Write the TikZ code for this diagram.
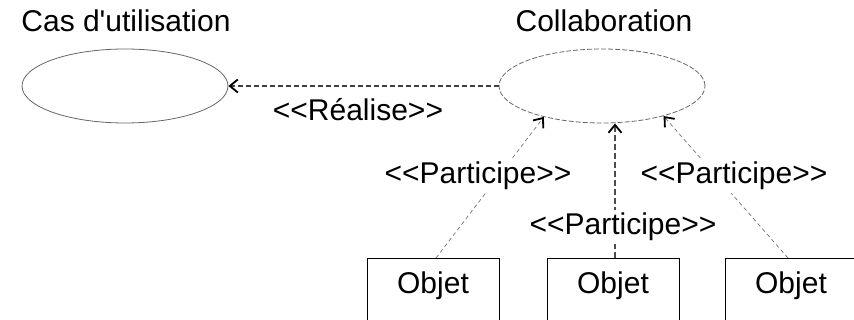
\documentclass[tikz,border=0pt]{standalone}
\usepackage{fontspec}
\setmainfont{Liberation Sans}[Ligatures=TeXOff]
\usetikzlibrary{shapes.geometric,arrows.meta}
\begin{document}
\begin{tikzpicture}[x=1pt,y=-1pt,
  lbl/.style={inner sep=0pt,font=\fontsize{30}{34}\selectfont},
  usecase/.style={ellipse,draw=black!60,line width=0.8pt,minimum width=206pt,minimum height=74pt,inner sep=0pt},
  collab/.style={ellipse,draw=black!60,dashed,dash pattern=on 5pt off 2pt,line width=0.8pt,minimum width=206pt,minimum height=74pt,inner sep=0pt},
  objbox/.style={draw=black,line width=1pt,minimum width=132pt,minimum height=90pt,inner sep=0pt,anchor=north},
  tip/.style={-{Straight Barb[length=8pt,width=13pt,line width=1.8pt,color=black]}},
  realise/.style={tip,draw=black!75,line width=1.2pt,dash pattern=on 5pt off 3pt},
  partside/.style={tip,draw=black!55,line width=0.7pt,dash pattern=on 4pt off 3pt},
  partmid/.style={tip,draw=black!70,line width=1.2pt,dash pattern=on 6pt off 3pt},
]
\useasboundingbox (0,0) rectangle (854,320);
\node[lbl] (tcas) at (126,21) {Cas d'utilisation};
\node[lbl] (tcol) at (604,21) {Collaboration};
\node[usecase] (cas) at (125,86) {};
\node[collab] (col) at (602,86) {};
\node[objbox] (o1) at (433,258) {};
\node[objbox] (o2) at (613,258) {};
\node[objbox] (o3) at (791,258) {};
\node[lbl] (t1) at (433,286) {Objet};
\node[lbl] (t2) at (613,286) {Objet};
\node[lbl] (t3) at (791,286) {Objet};
\draw[realise] (col.west) -- (cas.east);
\node[lbl] (lr) at (358,110) {<<Réalise>>};
\draw[partside] ([xshift=3pt]o1.north) -- (col.-152);
\draw[partmid] ([xshift=2pt]o2.north) -- ([xshift=2pt]o2.north |- col.south);
\draw[partside] ([xshift=-3pt]o3.north) -- (col.-26);
\node[lbl,fill=white,inner ysep=3pt] (l1) at (478,176) {<<Participe>>};
\node[lbl,fill=white,inner ysep=3pt] (l2) at (623,227) {<<Participe>>};
\node[lbl,fill=white,inner ysep=3pt] (l3) at (734,176) {<<Participe>>};
\end{tikzpicture}
\end{document}
